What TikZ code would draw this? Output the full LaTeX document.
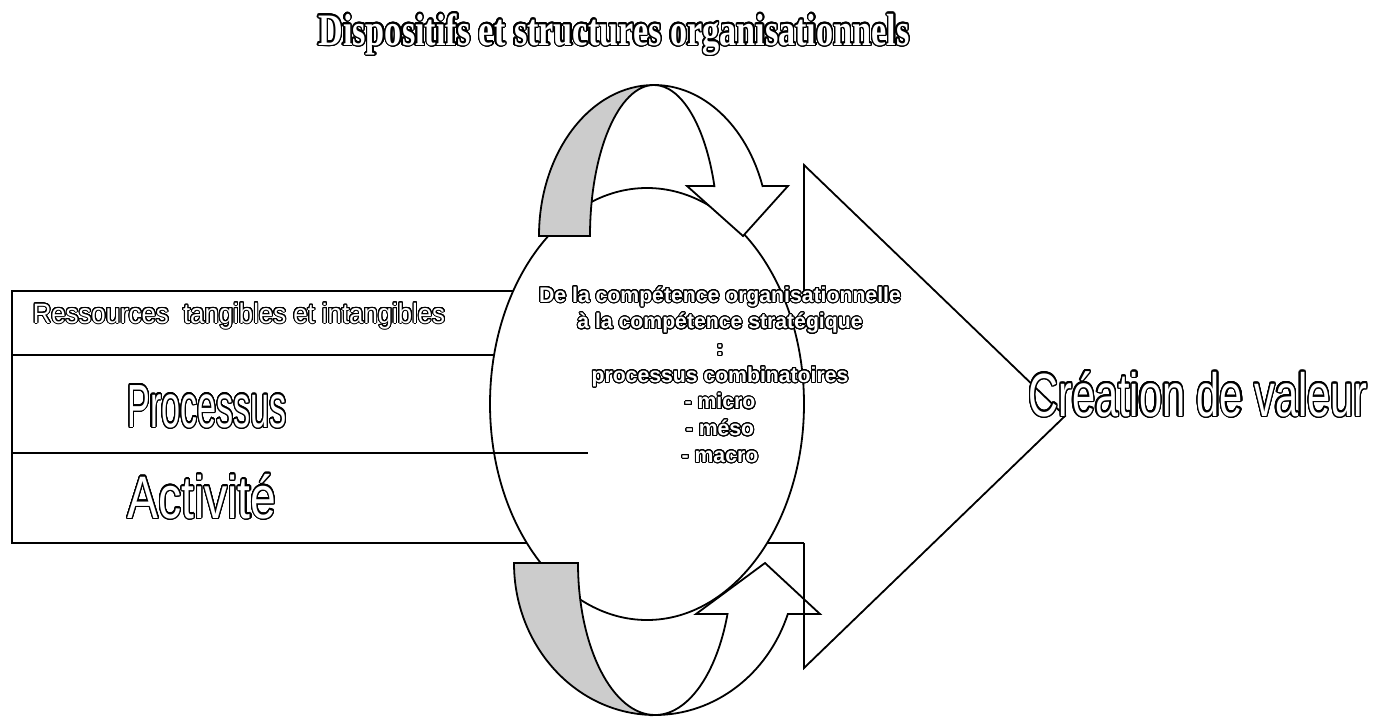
\documentclass[tikz,border=0pt]{standalone}
\usepackage{fontspec}
\usepackage{contour}
\setmainfont{Liberation Sans}
\newfontfamily\titlefont[FakeStretch=0.76]{Liberation Serif}
\newfontfamily\ressfont[FakeStretch=0.92]{Liberation Sans}
\newfontfamily\procfont[FakeStretch=0.56]{Liberation Sans}
\newfontfamily\actfont[FakeStretch=0.77]{Liberation Sans}
\newfontfamily\creafont[FakeStretch=0.68]{Liberation Sans}
\contournumber{32}
\newcommand{\hollowtext}[2][0.6pt]{{\contourlength{#1}\color{white}\contour{black}{#2}}}

\begin{document}
\begin{tikzpicture}[x=0.5pt,y=-0.5pt,line width=0.9pt]
        \tikzstyle{every node}+=[inner sep=0pt]
        \useasboundingbox (0,0) rectangle (1382,718);
        \draw [black] (600,291) -- (12,291) -- (12,543) -- (804,543);
        \draw [black] (12,355) -- (600,355);
        \draw [black, fill=white] (647,404) ellipse [x radius=157, y radius=216];
        \draw [black] (12,453) -- (588,453);
        \draw [black, fill=gray!40] (539,236) arc [start angle=180, end angle=270, x radius=115, y radius=151] arc [start angle=270, end angle=180, x radius=64, y radius=151] -- cycle;
        \draw [black, fill=white] (654,85) arc [start angle=270, end angle=340.7, x radius=115, y radius=151] -- (788,186) -- (743,236) -- (687,186) -- (714.4,186.1) arc [start angle=340.7, end angle=270, x radius=64, y radius=151] -- cycle;
        \draw [black, fill=gray!40] (514,563) arc [start angle=180, end angle=90, x radius=141, y radius=152] arc [start angle=90, end angle=180, x radius=77, y radius=152] -- cycle;
        \draw [black, fill=white] (655,715) arc [start angle=90, end angle=19.6, x radius=141, y radius=152] -- (820,614) -- (765,563) -- (696,614) -- (727.5,614) arc [start angle=19.6, end angle=90, x radius=77, y radius=152] -- cycle;
        \draw [black] (804,291) -- (804,165) -- (1065,416) -- (804,668) -- (804,543);
        \draw (614,45) node [anchor=base] (title) {\titlefont\fontsize{22.5}{27}\selectfont\bfseries\hollowtext[0.7pt]{Dispositifs et structures organisationnels}};
        \draw (239,323) node [anchor=base] (ressources) {\ressfont\fontsize{14}{17}\selectfont\hollowtext[0.5pt]{Ressources~~tangibles et intangibles}};
        \draw (207,427) node [anchor=base] (processus) {\procfont\fontsize{30.5}{36}\selectfont\hollowtext[0.6pt]{Processus}};
        \draw (202,518) node [anchor=base] (activite) {\actfont\fontsize{30}{36}\selectfont\hollowtext[0.6pt]{Activité}};
        \draw (720,375) node [align=center, font=\bfseries\fontsize{10.6}{13.35}\selectfont] (competence) {\hollowtext[0.5pt]{De la compétence organisationnelle}\\\hollowtext[0.5pt]{à la compétence stratégique}\\\hollowtext[0.5pt]{:}\\\hollowtext[0.5pt]{processus combinatoires}\\\hollowtext[0.5pt]{- micro}\\\hollowtext[0.5pt]{- méso}\\\hollowtext[0.5pt]{- macro}};
        \draw (1198,416) node [anchor=base] (creation) {\creafont\fontsize{30.5}{36}\selectfont\hollowtext[0.7pt]{Création de valeur}};
\end{tikzpicture}
\end{document}
